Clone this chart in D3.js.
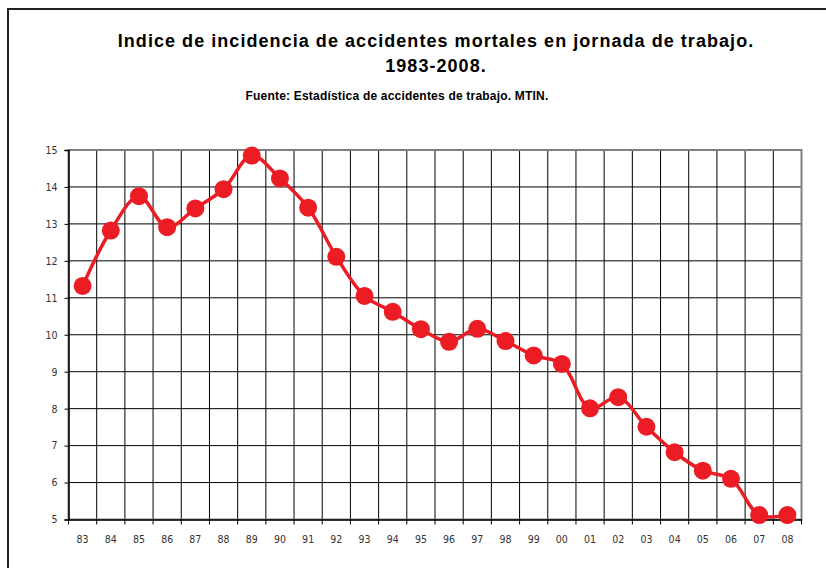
<!DOCTYPE html>
<html>
<head>
<meta charset="utf-8">
<script src="https://cdn.jsdelivr.net/npm/d3@7"></script>
<style>
  body { margin: 0; background: #fff; }
  .tick text { font-family: "Liberation Sans Narrow", "DejaVu Sans Condensed", sans-serif; font-size: 10.5px; fill: #333; }
</style>
</head>
<body>
<div id="chart"></div>
<script>
// data
const years = ['83','84','85','86','87','88','89','90','91','92','93','94','95','96','97','98','99','00','01','02','03','04','05','06','07','08'];
const incidence = [11.32, 12.82, 13.75, 12.91, 13.42, 13.94, 14.85, 14.23, 13.44, 12.11, 11.05, 10.62, 10.15, 9.81, 10.16, 9.83, 9.44, 9.21, 8.01, 8.31, 7.51, 6.82, 6.32, 6.10, 5.12, 5.12];
const yTicks = [5, 6, 7, 8, 9, 10, 11, 12, 13, 14, 15];

const draw = () => {
    const dimensions = {
        width: 826,
        height: 568,
        margin: { top: 150, left: 68.5, right: 24.5, bottom: 48.5 }
    };
    dimensions.containerWidth = dimensions.width - dimensions.margin.left - dimensions.margin.right;
    dimensions.containerHeight = dimensions.height - dimensions.margin.top - dimensions.margin.bottom;

    const svg = d3.select('#chart')
        .append('svg')
        .attr('width', dimensions.width)
        .attr('height', dimensions.height);

    // outer frame
    svg.append('rect')
        .attr('x', 8).attr('y', 9)
        .attr('width', 830).attr('height', 580)
        .attr('fill', 'none')
        .attr('stroke', '#222')
        .attr('stroke-width', 2);

    // titles
    const titleFont = '"Liberation Sans", Arial, sans-serif';
    svg.append('text')
        .attr('x', 436).attr('y', 47)
        .attr('text-anchor', 'middle')
        .style('font-family', titleFont).style('font-weight', 'bold')
        .style('font-size', '18px').style('letter-spacing', '1.05px')
        .text('Indice de incidencia de accidentes mortales en jornada de trabajo.');
    svg.append('text')
        .attr('x', 436).attr('y', 72)
        .attr('text-anchor', 'middle')
        .style('font-family', titleFont).style('font-weight', 'bold')
        .style('font-size', '18px').style('letter-spacing', '1.05px')
        .text('1983-2008.');
    svg.append('text')
        .attr('x', 397).attr('y', 100)
        .attr('text-anchor', 'middle')
        .style('font-family', titleFont).style('font-weight', 'bold')
        .style('font-size', '12px').style('letter-spacing', '0.2px')
        .text('Fuente: Estadística de accidentes de trabajo. MTIN.');

    const container = svg.append('g')
        .attr('transform', `translate(${dimensions.margin.left}, ${dimensions.margin.top})`);

    // scales
    const xScale = d3.scaleBand()
        .domain(years)
        .range([0, dimensions.containerWidth]);

    const yScale = d3.scaleLinear()
        .domain([5, 15])
        .range([dimensions.containerHeight, 0]);

    // grid
    container.append('g')
        .selectAll('line')
        .data(yTicks)
        .join('line')
        .attr('x1', 0).attr('x2', dimensions.containerWidth)
        .attr('y1', d => yScale(d)).attr('y2', d => yScale(d))
        .attr('stroke', '#000').attr('stroke-width', 1);

    container.append('g')
        .selectAll('line')
        .data(years.slice(1))
        .join('line')
        .attr('x1', d => xScale(d)).attr('x2', d => xScale(d))
        .attr('y1', 0).attr('y2', dimensions.containerHeight)
        .attr('stroke', '#000').attr('stroke-width', 1);

    // plot border
    container.append('rect')
        .attr('width', dimensions.containerWidth)
        .attr('height', dimensions.containerHeight)
        .attr('fill', 'none')
        .attr('stroke', '#808080')
        .attr('stroke-width', 2);

    // axes
    const xAxis = d3.axisBottom(xScale).tickSize(0).tickPadding(16);
    const xAxisGroup = container.append('g')
        .attr('transform', `translate(0, ${dimensions.containerHeight})`)
        .call(xAxis);
    xAxisGroup.select('.domain').attr('stroke', '#000').attr('stroke-width', 1.5);
    xAxisGroup.append('g')
        .selectAll('line')
        .data(years.concat(['end']))
        .join('line')
        .attr('x1', (d, i) => i * xScale.step()).attr('x2', (d, i) => i * xScale.step())
        .attr('y1', 0).attr('y2', 5)
        .attr('stroke', '#000');

    const yAxis = d3.axisLeft(yScale).tickValues(yTicks).tickSize(4).tickPadding(7);
    const yAxisGroup = container.append('g').call(yAxis);
    yAxisGroup.select('.domain').attr('stroke', '#000').attr('stroke-width', 1.5);

    // line
    const line = d3.line()
        .x((d, i) => xScale(years[i]) + xScale.bandwidth() / 2)
        .y(d => yScale(d))
        .curve(d3.curveCatmullRom.alpha(0.5));

    container.append('path')
        .datum(incidence)
        .attr('d', line)
        .attr('fill', 'none')
        .attr('stroke', '#ec1c24')
        .attr('stroke-width', 3.5);

    container.selectAll('circle')
        .data(incidence)
        .join('circle')
        .attr('cx', (d, i) => xScale(years[i]) + xScale.bandwidth() / 2)
        .attr('cy', d => yScale(d))
        .attr('r', 9)
        .attr('fill', '#ec1c24');
};

draw();
</script>
</body>
</html>
